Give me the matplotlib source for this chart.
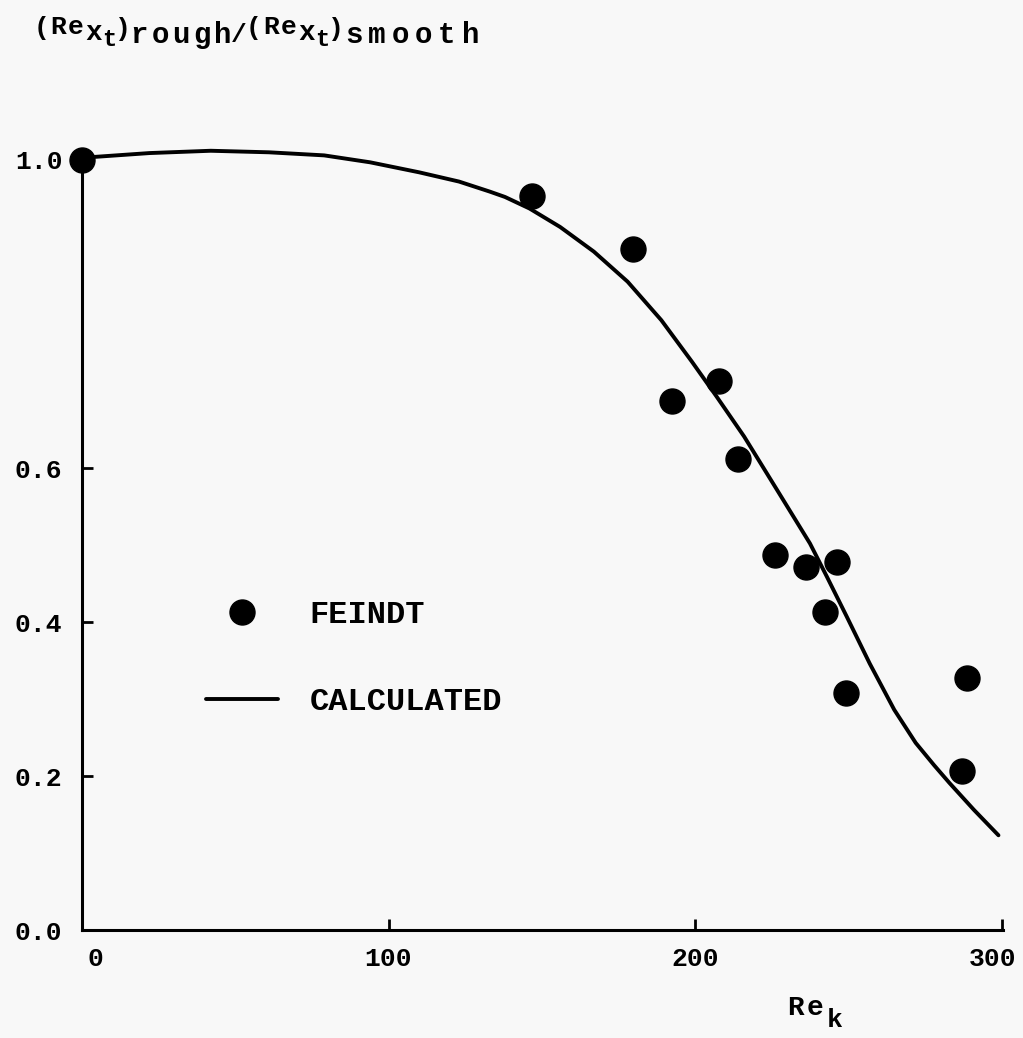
import numpy as np
import matplotlib
matplotlib.use("Agg")
import matplotlib.pyplot as plt
import matplotlib.transforms as mtransforms

#%% data
# Feindt measurements
feindt_rek = [0, 146.8, 179.8, 192.5, 207.8, 214.0, 226.0, 236.2, 246.3, 242.4, 249.3, 288.7, 287.1]
feindt_ratio = [1.0, 0.953, 0.884, 0.687, 0.713, 0.612, 0.487, 0.471, 0.478, 0.413, 0.308, 0.327, 0.206]

# calculated curve
calc_rek = [0, 4, 22, 42, 61, 79, 94, 110, 123, 133, 138, 146, 156, 167, 178,
            189, 199, 207, 216, 227, 237.5, 243, 249.5, 257, 265, 272, 278, 283,
            291, 299]
calc_ratio = [1.0, 1.004, 1.009, 1.012, 1.010, 1.006, 0.997, 0.984, 0.972, 0.959,
              0.952, 0.937, 0.913, 0.881, 0.842, 0.792, 0.738, 0.693, 0.641, 0.570,
              0.502, 0.459, 0.407, 0.346, 0.286, 0.243, 0.214, 0.191, 0.156, 0.123]

xticks = [0, 100, 200, 300]
yticks = [0.0, 0.2, 0.4, 0.6, 1.0]
yticklabels = ["0.0", "0.2", "0.4", "0.6", "1.0"]

#%% style
plt.rcParams["font.family"] = ["Liberation Mono", "DejaVu Sans Mono"]
plt.rcParams["font.weight"] = "bold"
bg = "#f8f8f8"
W, H = 1023, 1038

fig = plt.figure(figsize=(W/100, H/100), dpi=100, facecolor=bg)
ax = fig.add_axes([82/W, 108/H, 922.6/W, 808.5/H], facecolor=bg)

ax.plot(calc_rek, calc_ratio, "-", color="black", lw=2.8, solid_capstyle="round",
        solid_joinstyle="round", label="CALCULATED", clip_on=False)
ax.plot(feindt_rek, feindt_ratio, "o", color="black", ms=18, ls="none",
        label="FEINDT", clip_on=False, zorder=3)

ax.set_xlim(0, 301)
ax.set_ylim(0, 1.05)
for s in ["top", "right"]:
    ax.spines[s].set_visible(False)
ax.spines["left"].set_bounds(0, 1.0)
ax.spines["bottom"].set_bounds(0, 300.5)
for s in ["left", "bottom"]:
    ax.spines[s].set_linewidth(2.2)

ax.set_xticks(xticks)
ax.set_yticks(yticks)
ax.set_yticklabels(yticklabels)
ax.tick_params(axis="both", direction="in", length=8, width=2, labelsize=19, colors="black")
ax.tick_params(axis="x", pad=12)
ax.tick_params(axis="y", pad=14)
# first and last x labels sit a little off their ticks in the original
xl = ax.get_xticklabels()
for lbl, dx in [(xl[0], 13), (xl[-1], -9)]:
    lbl.set_transform(lbl.get_transform() + mtransforms.ScaledTranslation(dx/100, 0, fig.dpi_scale_trans))

# legend: dot first, then line
h, l = ax.get_legend_handles_labels()
ax.legend(h[::-1], l[::-1], loc="upper left", bbox_to_anchor=(206/W, 1 - 600/H),
          bbox_transform=fig.transFigure, frameon=False, fontsize=23,
          handlelength=2.25, handletextpad=1.0, labelspacing=1.8, borderpad=0,
          borderaxespad=0)

#%% typewriter style labels: each piece spread over its span (pixels from top-left)
def typed(pieces):
    for s, x0, x1, base, size in pieces:
        step = (x1 - x0) / len(s)
        for i, c in enumerate(s):
            fig.text((x0 + (i + 0.5)*step)/W, 1 - base/H, c, fontsize=size,
                     ha="center", va="baseline")

typed([("(", 36, 47, 35, 19), ("Re", 50, 84, 34, 19), ("x", 85, 102, 40, 20),
       ("t", 102, 116, 46, 17), (")", 117, 128, 36, 19), ("rough", 129, 233, 43, 21),
       ("/", 233, 245, 42, 19), ("(", 249, 259, 35, 19), ("Re", 262, 298, 34, 19),
       ("x", 298, 315, 40, 20), ("t", 315, 329, 46, 17), (")", 330, 341, 36, 19),
       ("smooth", 342, 482, 43, 21)])
typed([("Re", 785, 825, 1015, 20), ("k", 824, 845, 1027, 19)])

plt.savefig("out.png", dpi=100, facecolor=bg)
